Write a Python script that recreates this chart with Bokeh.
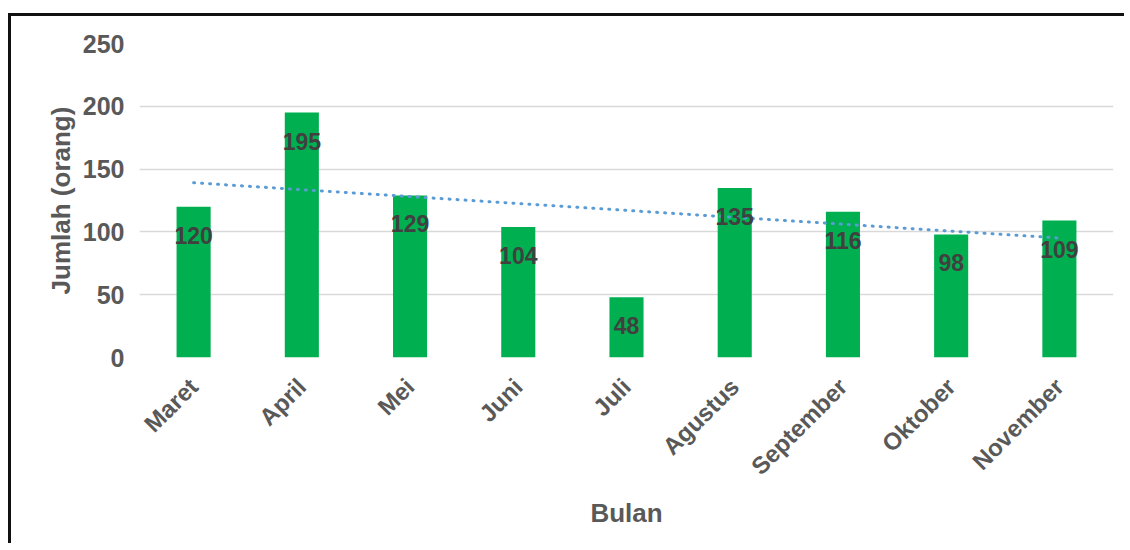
import numpy as np
from bokeh.plotting import figure
from bokeh.models import FactorRange, Range1d, FixedTicker, ColumnDataSource
from bokeh.core.properties import value
from bokeh.embed import file_html
from bokeh.resources import INLINE
from math import pi

months = ["Maret", "April", "Mei", "Juni", "Juli", "Agustus", "September", "Oktober", "November"]
counts = [120, 195, 129, 104, 48, 135, 116, 98, 109]
y_ticks = [0, 50, 100, 150, 200, 250]

FONT = "Liberation Sans"
AXIS_COLOR = "#595959"
LABEL_COLOR = "#404040"
BAR_COLOR = "#00B050"
TREND_COLOR = "#5B9BD5"

# linear trend line fitted to the data (Excel-style linear trendline)
xi = np.arange(len(counts))
slope, intercept = np.polyfit(xi, counts, 1)
trend = list(intercept + slope * xi)

src = ColumnDataSource(dict(month=months, count=counts, label=[str(c) for c in counts], trend=trend))

p = figure(
    x_range=FactorRange(*months, range_padding=0),
    y_range=Range1d(0, 250),
    width=1116, height=530,
    output_backend="svg", toolbar_location=None,
    min_border_left=128, min_border_right=14, min_border_top=27, min_border_bottom=189,
)
p.styles = {"margin-top": "13px", "margin-left": "8px",
            "border-top": "3px solid #111", "border-left": "3px solid #111"}
p.outline_line_color = None
p.background_fill_color = "white"
p.border_fill_color = "white"

p.vbar(x="month", top="count", width=0.315, source=src, fill_color=BAR_COLOR, line_color=None)
p.line(x="month", y="trend", source=src, line_color=TREND_COLOR, line_width=3,
       line_dash="1 7", line_cap="round")
p.text(x="month", y="count", text="label", source=src, text_align="center", text_baseline="top",
       y_offset=20, text_font=value(FONT), text_font_style="bold", text_font_size="23px",
       text_color=LABEL_COLOR)

p.xgrid.grid_line_color = None
p.ygrid.grid_line_color = "#D9D9D9"
p.ygrid.grid_line_width = 1.5

p.yaxis.ticker = FixedTicker(ticks=y_ticks)
p.yaxis.axis_line_color = None
p.yaxis.major_tick_line_color = None
p.yaxis.minor_tick_line_color = None
p.yaxis.major_label_text_font = FONT
p.yaxis.major_label_text_font_style = "bold"
p.yaxis.major_label_text_font_size = "25px"
p.yaxis.major_label_text_color = AXIS_COLOR
p.yaxis.major_label_standoff = 9
p.yaxis.axis_label = "Jumlah (orang)"
p.yaxis.axis_label_text_font = FONT
p.yaxis.axis_label_text_font_style = "bold"
p.yaxis.axis_label_text_font_size = "26px"
p.yaxis.axis_label_text_color = AXIS_COLOR
p.yaxis.axis_label_standoff = 4

p.xaxis.axis_line_color = None
p.xaxis.major_tick_line_color = None
p.xaxis.minor_tick_line_color = None
p.xaxis.major_label_orientation = pi / 4
p.xaxis.major_label_text_font = FONT
p.xaxis.major_label_text_font_style = "bold"
p.xaxis.major_label_text_font_size = "24px"
p.xaxis.major_label_text_color = AXIS_COLOR
p.xaxis.major_label_standoff = 19
p.xaxis.axis_label = "Bulan"
p.xaxis.axis_label_text_font = FONT
p.xaxis.axis_label_text_font_style = "bold"
p.xaxis.axis_label_text_font_size = "26px"
p.xaxis.axis_label_text_color = AXIS_COLOR
p.xaxis.axis_label_standoff = 6

open("out.html", "w").write(file_html(p, INLINE))
